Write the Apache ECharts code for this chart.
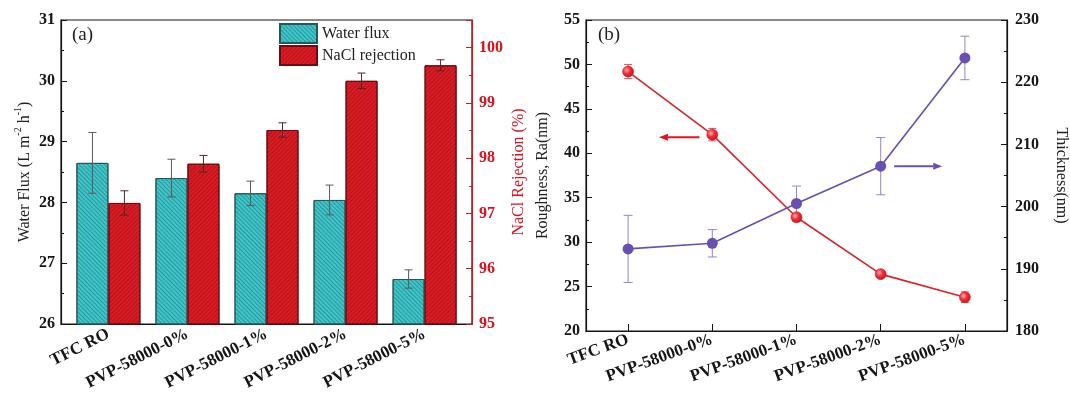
<!DOCTYPE html>
<html><head><meta charset="utf-8">
<script src="https://cdn.jsdelivr.net/npm/echarts@6/dist/echarts.min.js"></script>
<style>html,body{margin:0;padding:0;background:#fff}#c{width:1070px;height:396px}</style>
</head><body><div id="c"></div>
<script>
// ---- data ----
const categories = ['TFC RO', 'PVP-58000-0%', 'PVP-58000-1%', 'PVP-58000-2%', 'PVP-58000-5%'];
const waterFlux = [28.65, 28.40, 28.15, 28.04, 26.74];
const waterFluxErr = [0.50, 0.31, 0.20, 0.245, 0.15];
const naclRejection = [97.19, 97.90, 98.51, 99.40, 99.68];
const naclRejectionErr = [0.22, 0.15, 0.13, 0.14, 0.10];
const roughness = [49.2, 42.1, 32.8, 26.4, 23.8];
const roughnessErr = [0.8, 0.7, 0.4, 0.25, 0.6];
const thickness = [193.2, 194.1, 200.5, 206.5, 223.9];
const thicknessErr = [5.4, 2.2, 2.8, 4.6, 3.5];
// axis ranges [min, max, step]
const fluxAxis = [26, 31, 1];
const rejectionAxis = [95, 100.5, 1];
const roughnessAxis = [20, 55, 5];
const thicknessAxis = [180, 230, 10];
// annotation arrows: [fromCategoryPos, toCategoryPos, value]
const roughnessArrow = [0.847, 0.366, 41.8];
const thicknessArrow = [3.16, 3.73, 206.5];

const FONT = "'Liberation Serif', 'DejaVu Serif', serif";
const BLACK = '#151515';
const RED = '#d7131d';

function errRender(offsetPx, cap, color) {
  return function (params, api) {
    const x = api.value(0), lo = api.value(1), hi = api.value(2);
    const pLo = api.coord([x, lo]), pHi = api.coord([x, hi]);
    const cx = pLo[0] + offsetPx;
    const st = { stroke: color, lineWidth: 1 };
    return { type: 'group', children: [
      { type: 'line', shape: { x1: cx, y1: pLo[1], x2: cx, y2: pHi[1] }, style: st },
      { type: 'line', shape: { x1: cx - cap, y1: pHi[1], x2: cx + cap, y2: pHi[1] }, style: st },
      { type: 'line', shape: { x1: cx - cap, y1: pLo[1], x2: cx + cap, y2: pLo[1] }, style: st }
    ] };
  };
}
function arrowRender(color) {
  return function (params, api) {
    const a = api.value(0), b = api.value(1), v = api.value(2);
    const p0 = api.coord([0, v]), p1 = api.coord([1, v]);
    const step = p1[0] - p0[0];
    const xa = p0[0] + a * step, xb = p0[0] + b * step, y = p0[1];
    const dir = xb > xa ? 1 : -1;
    const head = 9;
    return { type: 'group', children: [
      { type: 'line', shape: { x1: xa, y1: y, x2: xb - dir * head, y2: y }, style: { stroke: color, lineWidth: 2 } },
      { type: 'polygon', shape: { points: [[xb, y], [xb - dir * head, y - 3.5], [xb - dir * head, y + 3.5]] }, style: { fill: color } }
    ] };
  };
}

function yAxisBase(extra) {
  const o = {
    type: 'value',
    axisLine: { show: true, onZero: false, lineStyle: { color: BLACK, width: 1.2 } },
    axisTick: { show: true, inside: true, length: 6, lineStyle: { color: BLACK } },
    minorTick: { show: true, splitNumber: 2, length: 3, lineStyle: { color: BLACK } },
    splitLine: { show: false },
    axisLabel: { fontFamily: FONT, fontWeight: 'bold', fontSize: 16, color: BLACK, margin: 6 },
    nameLocation: 'middle',
    nameTextStyle: { fontFamily: FONT, fontSize: 16, color: '#222' }
  };
  return Object.assign(o, extra);
}

const chart = echarts.init(document.getElementById('c'), null, { renderer: 'canvas' });
const option = {
  animation: false,
  backgroundColor: '#fff',
  textStyle: { fontFamily: FONT },
  grid: [
    { left: 61, top: 20, width: 411, height: 304, show: true, borderColor: BLACK, borderWidth: 1.2, backgroundColor: 'transparent' },
    { left: 586, top: 20, width: 423, height: 311, show: true, borderColor: BLACK, borderWidth: 1.2, backgroundColor: 'transparent' }
  ],
  legend: {
    left: 279, top: 23, orient: 'vertical', padding: 0, itemGap: 1, itemWidth: 37, itemHeight: 19, icon: 'rect',
    data: ['Water flux', 'NaCl rejection'],
    textStyle: { fontFamily: FONT, fontSize: 16, color: '#222' }
  },
  graphic: [
    { type: 'text', left: 72, top: 26, style: { text: '(a)', font: '19px ' + FONT, fill: '#222' } },
    { type: 'text', left: 598, top: 26, style: { text: '(b)', font: '19px ' + FONT, fill: '#222' } }
  ],
  xAxis: [
    {
      type: 'value', gridIndex: 0, min: -0.6, max: 4.6,
      axisLine: { show: true, onZero: false, lineStyle: { color: BLACK, width: 1.2 } },
      axisTick: { show: false }, splitLine: { show: false },
      axisLabel: { customValues: [0, 1, 2, 3, 4], formatter: v => categories[Math.round(v)], rotate: 27, fontFamily: FONT, fontWeight: 'bold', fontSize: 17, color: BLACK, margin: 9 }
    },
    {
      type: 'category', gridIndex: 1, data: categories, boundaryGap: true,
      axisLine: { show: true, onZero: false, lineStyle: { color: BLACK, width: 1.2 } },
      axisTick: { show: true, inside: true, alignWithLabel: true, length: 7, lineStyle: { color: BLACK } },
      axisLabel: { rotate: 20, fontFamily: FONT, fontWeight: 'bold', fontSize: 17, color: BLACK, margin: 8, interval: 0 }
    }
  ],
  yAxis: [
    yAxisBase({
      gridIndex: 0, position: 'left', min: fluxAxis[0], max: fluxAxis[1], interval: fluxAxis[2],
      name: '{n|Water Flux (L m}{s|-2}{n| h}{s|-1}{n|)}', nameGap: 28,
      nameTextStyle: { fontFamily: FONT, fontSize: 16, color: '#222', rich: {
        n: { fontFamily: FONT, fontSize: 16, color: '#222', lineHeight: 20, verticalAlign: 'bottom' },
        s: { fontFamily: FONT, fontSize: 10, color: '#222', lineHeight: 20, verticalAlign: 'top' } } }
    }),
    yAxisBase({
      gridIndex: 0, position: 'right', min: rejectionAxis[0], max: rejectionAxis[1], interval: rejectionAxis[2],
      axisLine: { show: true, onZero: false, lineStyle: { color: RED, width: 1.2 } },
      axisTick: { show: true, inside: true, length: 6, lineStyle: { color: RED } },
      minorTick: { show: true, splitNumber: 2, length: 3, lineStyle: { color: RED } },
      axisLabel: { fontFamily: FONT, fontWeight: 'bold', fontSize: 16, color: RED, margin: 7,
        formatter: v => (Number.isInteger(v) ? String(v) : '') },
      name: 'NaCl Rejection (%)', nameGap: 39, nameRotate: 90,
      nameTextStyle: { fontFamily: FONT, fontSize: 16, color: RED }
    }),
    yAxisBase({
      gridIndex: 1, position: 'left', min: roughnessAxis[0], max: roughnessAxis[1], interval: roughnessAxis[2],
      name: 'Roughness, Ra(nm)', nameGap: 35
    }),
    yAxisBase({
      gridIndex: 1, position: 'right', min: thicknessAxis[0], max: thicknessAxis[1], interval: thicknessAxis[2],
      axisLabel: { fontFamily: FONT, fontWeight: 'bold', fontSize: 16, color: BLACK, margin: 8 },
      name: 'Thickness(nm)', nameGap: 46, nameRotate: -90
    })
  ],
  series: [
    {
      type: 'bar', name: 'Water flux', xAxisIndex: 0, yAxisIndex: 0, barWidth: 32, barGap: '0%',
      data: waterFlux.map((v, i) => [i, v]),
      itemStyle: { color: '#3fc6ca', borderColor: '#2a5658', borderWidth: 1,
        decal: { symbol: 'rect', symbolSize: 1, dashArrayX: [1, 0], dashArrayY: [1, 2], rotation: Math.PI / 4, color: 'rgba(20,90,95,0.45)' } }
    },
    {
      type: 'bar', name: 'NaCl rejection', xAxisIndex: 0, yAxisIndex: 1, barWidth: 32, barGap: '0%',
      data: naclRejection.map((v, i) => [i, v]),
      itemStyle: { color: '#d81c24', borderColor: '#6a0d10', borderWidth: 1,
        decal: { symbol: 'rect', symbolSize: 1, dashArrayX: [1, 0], dashArrayY: [1, 2], rotation: -Math.PI / 4, color: 'rgba(130,0,8,0.35)' } }
    },
    {
      type: 'custom', xAxisIndex: 0, yAxisIndex: 0, z: 5, silent: true,
      renderItem: errRender(-16, 4, '#5a5a5a'),
      encode: { x: 0, y: [1, 2] },
      data: waterFlux.map((v, i) => [i, v - waterFluxErr[i], v + waterFluxErr[i]])
    },
    {
      type: 'custom', xAxisIndex: 0, yAxisIndex: 1, z: 5, silent: true,
      renderItem: errRender(16, 4, '#4a2a2a'),
      encode: { x: 0, y: [1, 2] },
      data: naclRejection.map((v, i) => [i, v - naclRejectionErr[i], v + naclRejectionErr[i]])
    },
    {
      type: 'custom', xAxisIndex: 1, yAxisIndex: 2, z: 1, silent: true,
      renderItem: errRender(0, 4, '#e0525a'),
      encode: { x: 0, y: [1, 2] },
      data: roughness.map((v, i) => [i, v - roughnessErr[i], v + roughnessErr[i]])
    },
    {
      type: 'custom', xAxisIndex: 1, yAxisIndex: 3, z: 1, silent: true,
      renderItem: errRender(0, 4.5, '#9683cc'),
      encode: { x: 0, y: [1, 2] },
      data: thickness.map((v, i) => [i, v - thicknessErr[i], v + thicknessErr[i]])
    },
    {
      type: 'line', name: 'Roughness', xAxisIndex: 1, yAxisIndex: 2, z: 3,
      data: roughness, symbol: 'circle', symbolSize: 11,
      lineStyle: { color: '#d8232b', width: 1.6 },
      itemStyle: { color: { type: 'radial', x: 0.38, y: 0.38, r: 0.65, colorStops: [
        { offset: 0, color: '#ffb0b0' }, { offset: 0.45, color: '#f0333a' }, { offset: 1, color: '#c80f18' }] },
        borderColor: '#d01a22', borderWidth: 0.6 }
    },
    {
      type: 'line', name: 'Thickness', xAxisIndex: 1, yAxisIndex: 3, z: 3,
      data: thickness, symbol: 'circle', symbolSize: 11,
      lineStyle: { color: '#6a4fb2', width: 1.6 },
      itemStyle: { color: '#6a4fb2' }
    },
    {
      type: 'custom', xAxisIndex: 1, yAxisIndex: 2, silent: true, z: 4,
      renderItem: arrowRender('#e0161f'), encode: { x: 0, y: 2 },
      data: [roughnessArrow]
    },
    {
      type: 'custom', xAxisIndex: 1, yAxisIndex: 3, silent: true, z: 4,
      renderItem: arrowRender('#6a4fb2'), encode: { x: 0, y: 2 },
      data: [thicknessArrow]
    }
  ]
};
chart.setOption(option);
</script>
</body></html>
